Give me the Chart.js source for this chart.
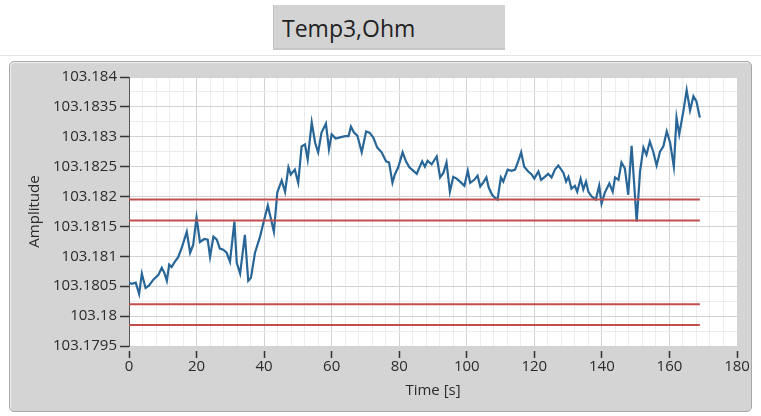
<!DOCTYPE html>
<html>
<head>
<meta charset="utf-8">
<script src="https://cdn.jsdelivr.net/npm/chart.js@4.4.1/dist/chart.umd.min.js"></script>
<style>
  html, body { margin: 0; padding: 0; background: #ffffff; }
  #wrap { position: relative; width: 761px; height: 416px; overflow: hidden; font-family: "Open Sans", sans-serif; }
  #topline { position: absolute; left: 0; top: 55px; width: 761px; height: 1px; background: #e4e4e4; }
  #caption {
    position: absolute; left: 273px; top: 5px; width: 232px; height: 45px;
    background: #d3d3d3; box-sizing: border-box;
    border-left: 1px solid #c2c2c2; border-bottom: 2px solid #c6c6c6;
    font-size: 23px; line-height: 45px; color: #222; padding-left: 8px; padding-top: 1px;
  }
  #panel {
    position: absolute; left: 9px; top: 61px; width: 743px; height: 351px;
    box-sizing: border-box; background: #d4d4d4;
    border: 1px solid #a8a8a8; border-radius: 5px;
    box-shadow: inset 1px 1px 0 #efefef;
  }
  #chart { position: absolute; left: 0; top: 0; }
</style>
</head>
<body>
<div id="wrap">
  <div id="topline"></div>
  <div id="caption">Temp3,Ohm</div>
  <div id="panel"></div>
  <canvas id="chart" width="761" height="416"></canvas>
</div>
<script>
// time in seconds
const times = [
  0, 0.8, 2.0, 3.0, 3.8, 4.9, 5.9, 7.2, 8.7, 9.7, 10.5, 11.2, 11.9, 12.6, 13.6, 14.6, 15.6, 17.1, 18.1, 19.0,
  20.0, 21.0, 22.3, 23.3, 24.0, 25.0, 26.0, 26.9, 27.9, 28.9, 29.9, 31.2, 31.9, 32.9, 34.3, 35.3, 36.1, 37.3, 38.8, 39.8,
  41.1, 42.9, 43.9, 45.2, 46.2, 47.2, 47.9, 49.1, 50.1, 51.1, 52.1, 52.9, 54.1, 55.1, 56.0, 57.0, 58.3, 59.2, 60.0, 61.2,
  62.5, 64.0, 65.0, 65.7, 66.6, 67.6, 68.9, 70.2, 71.2, 72.3, 73.5, 74.8, 76.1, 77.0, 78.0, 78.7, 79.7, 81.0, 82.0, 83.0,
  84.2, 85.2, 85.7, 86.8, 87.6, 88.4, 89.6, 91.1, 92.1, 93.1, 94.0, 95.0, 96.0, 97.0, 98.0, 99.3, 100.3, 101.0, 102.2, 103.2,
  104.0, 104.8, 105.8, 106.5, 107.5, 108.3, 109.1, 110.1, 110.8, 112.1, 113.3, 114.3, 115.1, 116.1, 117.0, 118.2, 119.2, 120.0, 121.2, 122.0,
  123.1, 124.1, 125.1, 126.1, 127.1, 128.6, 129.4, 130.1, 131.0, 132.0, 132.7, 133.7, 134.5, 135.3, 136.0, 137.0, 138.2, 139.2, 139.9, 140.9,
  142.2, 143.2, 143.9, 144.9, 145.8, 146.8, 147.8, 148.8, 150.3, 151.3, 152.3, 153.2, 154.2, 155.2, 156.2, 157.2, 158.2, 159.2, 160.2, 161.3,
  162.1, 162.9, 164.1, 165.1, 166.1, 167.1, 168.0, 169.0
];

// Temp3 resistance, Ohm
const amplitude = [
  103.18056, 103.18054, 103.18056, 103.18037, 103.18071, 103.18047, 103.18051, 103.18061, 103.18069, 103.18081,
  103.18072, 103.18059, 103.18086, 103.18082, 103.18091, 103.18099, 103.18114, 103.18141, 103.18106, 103.18119,
  103.18165, 103.18124, 103.18129, 103.18128, 103.18099, 103.18133, 103.18128, 103.18113, 103.18111, 103.18106,
  103.18091, 103.18158, 103.18089, 103.18071, 103.18136, 103.18059, 103.18064, 103.18106, 103.18133, 103.18156,
  103.18185, 103.18141, 103.18207, 103.18227, 103.18208, 103.18249, 103.18237, 103.18245, 103.18223, 103.18284,
  103.18287, 103.18262, 103.18324, 103.18290, 103.18274, 103.18307, 103.18322, 103.18279, 103.18304, 103.18297,
  103.18299, 103.18301, 103.18301, 103.18317, 103.18307, 103.18302, 103.18274, 103.18309, 103.18307, 103.18299,
  103.18282, 103.18274, 103.18259, 103.18257, 103.18223, 103.18237, 103.18249, 103.18274, 103.18259, 103.18249,
  103.18243, 103.18238, 103.18245, 103.18259, 103.18250, 103.18260, 103.18254, 103.18267, 103.18232, 103.18240,
  103.18257, 103.18208, 103.18233, 103.18230, 103.18225, 103.18218, 103.18243, 103.18223, 103.18228, 103.18235,
  103.18217, 103.18223, 103.18232, 103.18215, 103.18203, 103.18198, 103.18195, 103.18232, 103.18225, 103.18245,
  103.18243, 103.18245, 103.18257, 103.18274, 103.18250, 103.18242, 103.18237, 103.18230, 103.18242, 103.18228,
  103.18233, 103.18238, 103.18232, 103.18245, 103.18252, 103.18240, 103.18225, 103.18233, 103.18213, 103.18218,
  103.18208, 103.18230, 103.18212, 103.18225, 103.18208, 103.18200, 103.18195, 103.18218, 103.18188, 103.18207,
  103.18222, 103.18208, 103.18232, 103.18228, 103.18257, 103.18247, 103.18203, 103.18285, 103.18158, 103.18242,
  103.18282, 103.18270, 103.18292, 103.18275, 103.18252, 103.18275, 103.18284, 103.18309, 103.18290, 103.18250,
  103.18332, 103.18304, 103.18342, 103.18378, 103.18344, 103.18368, 103.18359, 103.18332
];

// horizontal limit lines (red)
const limitLevels = [103.18195, 103.18160, 103.18020, 103.17985];
const limitSpan = [0, 169];

const xTickValues = [0, 20, 40, 60, 80, 100, 120, 140, 160, 180];
const yTickLabels = ['103.1795', '103.18', '103.1805', '103.181', '103.1815', '103.182',
                     '103.1825', '103.183', '103.1835', '103.184'];
const xMinorPerMajor = 5;
const yMinorPerMajor = 2;

const GRID_MAJOR = '#d2d2d2';
const GRID_MINOR = '#ececec';
const TEXT = '#2b2b2b';

function withMinor(majors, n) {
  const out = [];
  for (let i = 0; i < majors.length; i++) {
    out.push({ value: majors[i], isMajor: true });
    if (i < majors.length - 1) {
      for (let k = 1; k < n; k++) {
        out.push({ value: majors[i] + (majors[i + 1] - majors[i]) * k / n, isMajor: false });
      }
    }
  }
  return out;
}

const yTickValues = yTickLabels.map(Number);

const datasets = limitLevels.map(v => ({
  data: limitSpan.map(t => ({ x: t, y: v })),
  borderColor: 'rgb(192, 78, 76)',
  borderWidth: 2,
  pointRadius: 0,
  fill: false
}));
datasets.push({
  data: times.map((t, i) => ({ x: t, y: amplitude[i] })),
  borderColor: 'rgb(40, 102, 152)',
  borderWidth: 2.2,
  pointRadius: 0,
  tension: 0,
  fill: false
});

const plotBg = {
  id: 'plotBg',
  beforeDraw(chart) {
    const a = chart.chartArea, ctx = chart.ctx;
    ctx.save();
    ctx.fillStyle = '#ffffff';
    ctx.fillRect(a.left, a.top, a.right - a.left, a.bottom - a.top);
    ctx.restore();
  }
};

Chart.defaults.font.family = '"Open Sans", sans-serif';

new Chart(document.getElementById('chart').getContext('2d'), {
  type: 'line',
  data: { datasets: datasets },
  plugins: [plotBg],
  options: {
    responsive: false,
    animation: false,
    events: [],
    layout: { padding: { left: 0, top: 77, right: 24, bottom: 0 } },
    plugins: { legend: { display: false }, tooltip: { enabled: false } },
    scales: {
      x: {
        type: 'linear',
        min: 0,
        max: 180,
        afterBuildTicks: s => { s.ticks = withMinor(xTickValues, xMinorPerMajor); },
        afterFit: s => { s.height = 70; },
        ticks: {
          autoSkip: false,
          maxRotation: 0,
          padding: 0,
          color: TEXT,
          font: { size: 15 },
          callback: (v, i, ticks) => ticks[i].isMajor ? String(v) : ''
        },
        grid: {
          color: c => (c.tick && c.tick.isMajor) ? GRID_MAJOR : GRID_MINOR,
          tickColor: c => (c.tick && c.tick.isMajor) ? '#333' : 'rgba(0,0,0,0)',
          tickLength: 12,
          tickWidth: 1.5,
          tickBorderDash: [0, 5, 7, 40]
        },
        border: { display: false },
        title: { display: true, text: 'Time [s]', color: TEXT, font: { size: 15 }, padding: { top: 0, bottom: 16 } }
      },
      y: {
        type: 'linear',
        min: 103.1795,
        max: 103.184,
        afterBuildTicks: s => { s.ticks = withMinor(yTickValues, yMinorPerMajor); },
        afterFit: s => { s.width = 129; },
        ticks: {
          autoSkip: false,
          padding: 3,
          color: TEXT,
          font: { size: 15 },
          callback: (v, i, ticks) => ticks[i].isMajor ? yTickLabels[yTickValues.indexOf(ticks[i].value)] : ''
        },
        grid: {
          color: c => (c.tick && c.tick.isMajor) ? GRID_MAJOR : GRID_MINOR,
          tickColor: c => (c.tick && c.tick.isMajor) ? '#333' : 'rgba(0,0,0,0)',
          tickLength: 9,
          tickWidth: 1.5
        },
        border: { display: true, color: '#555555', width: 1 },
        title: { display: true, text: 'Amplitude', color: TEXT, font: { size: 15 }, padding: { top: 26, bottom: 0 } }
      }
    }
  }
});
</script>
</body>
</html>
